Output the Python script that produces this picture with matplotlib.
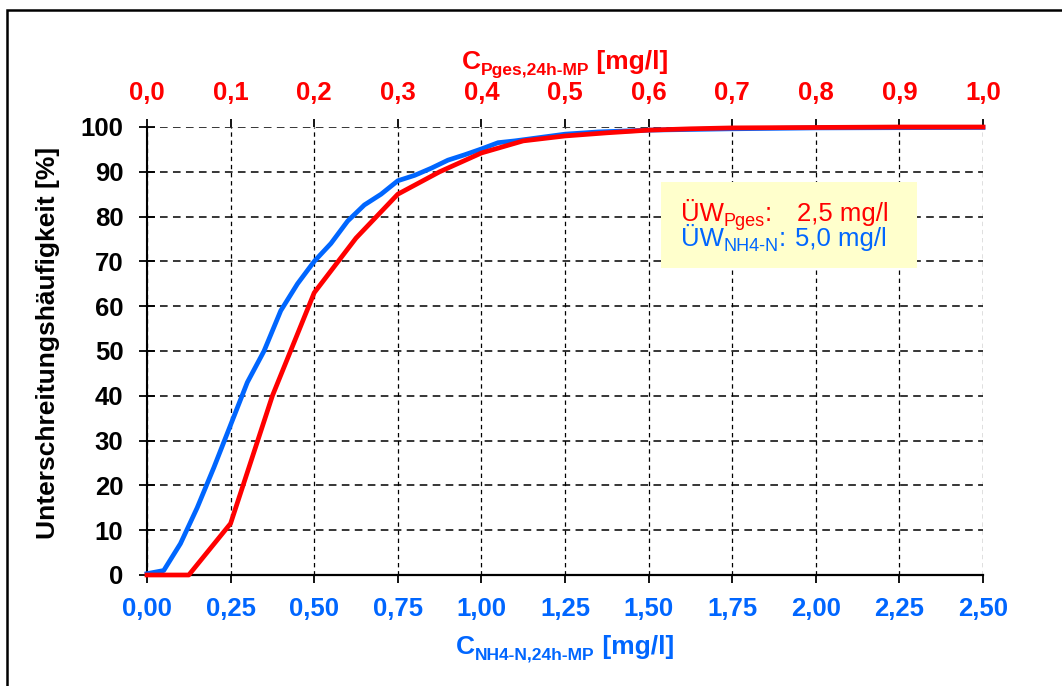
import matplotlib
matplotlib.use('Agg')
import matplotlib.pyplot as plt
from matplotlib.ticker import FuncFormatter, MultipleLocator
from matplotlib.patches import Rectangle

plt.rcParams['font.family'] = ['Liberation Sans', 'DejaVu Sans']

# NH4-N (bottom axis, mg/l) vs. Unterschreitungshaeufigkeit [%]
nh4_x = [0, 0.05, 0.1, 0.15, 0.2, 0.25, 0.3, 0.35, 0.4, 0.45, 0.5, 0.55, 0.6, 0.65,
         0.7, 0.75, 0.8, 0.85, 0.9, 0.95, 1.0, 1.05, 1.1, 1.25, 1.35, 1.5, 1.75, 2.0, 2.5]
nh4_y = [0.3, 1, 7, 15, 24, 33.5, 43, 50, 59, 65, 70, 74, 79, 82.6,
         85, 88, 89.2, 90.8, 92.6, 93.8, 95.1, 96.5, 96.9, 98.4, 98.9, 99.3, 99.6, 99.8, 99.9]

# Pges (top axis, mg/l)
p_x = [0, 0.05, 0.1, 0.15, 0.2, 0.25, 0.3, 0.35, 0.4, 0.45, 0.5, 0.55, 0.6, 0.65,
       0.7, 0.8, 0.9, 1.0]
p_y = [0, 0, 11.5, 40, 63, 75.2, 85, 90, 94.2, 96.9, 98, 98.7, 99.3, 99.6,
       99.8, 99.9, 100, 100]

RED = '#ff0000'
BLUE = '#0066ff'
W, H = 1062, 686


def px(x, y):
    return x / W, 1 - y / H


fig = plt.figure(figsize=(W / 100, H / 100), dpi=100)
ax = fig.add_axes([147 / W, 1 - 575 / H, (983 - 147) / W, (575 - 127) / H])
ax2 = ax.twiny()
ax.set_zorder(1)
ax2.set_zorder(2)
ax2.patch.set_visible(False)

ax.plot(nh4_x, nh4_y, color=BLUE, lw=3.4, clip_on=False, zorder=3)
ax2.plot(p_x, p_y, color=RED, lw=3.4, clip_on=False, zorder=3)

ax.set_xlim(0, 2.5)
ax.set_ylim(0, 100)
ax2.set_xlim(0, 1.0)

ax.xaxis.set_major_locator(MultipleLocator(0.25))
ax.yaxis.set_major_locator(MultipleLocator(10))
ax2.xaxis.set_major_locator(MultipleLocator(0.1))
ax.xaxis.set_major_formatter(FuncFormatter(lambda v, p: f'{v:.2f}'.replace('.', ',')))
ax2.xaxis.set_major_formatter(FuncFormatter(lambda v, p: f'{v:.1f}'.replace('.', ',')))
ax.yaxis.set_major_formatter(FuncFormatter(lambda v, p: f'{v:.0f}'))

ax.yaxis.grid(True, color='black', lw=1.1, linestyle=(0, (5, 3.5)))
ax.xaxis.grid(True, color='black', lw=0.9, linestyle=(0, (3.5, 3)))
ax.set_axisbelow(True)

for s in ['top', 'right']:
    ax.spines[s].set_visible(False)
for s in ax2.spines.values():
    s.set_visible(False)
ax.spines['left'].set_linewidth(1.5)
ax.spines['bottom'].set_linewidth(1.6)

ax.tick_params(axis='x', direction='out', length=6, width=1.3, pad=10,
               labelsize=18.5, labelcolor=BLUE)
ax.tick_params(axis='y', direction='inout', length=12, width=1.3, pad=11,
               labelsize=18.5, labelcolor='black')
ax2.tick_params(axis='x', direction='out', length=6, width=1.3, pad=10,
                labelsize=18.5, labelcolor=RED)
for lab in ax.get_xticklabels() + ax.get_yticklabels() + ax2.get_xticklabels():
    lab.set_fontweight('bold')

fig.text(*px(48, 343), 'Unterschreitungshäufigkeit [%]', rotation=90,
         ha='center', va='center', fontsize=19, fontweight='bold')

renderer = fig.canvas.get_renderer()


def composite(x, y, parts, color, weight, center=True):
    # parts: (text, fontsize, baseline shift in px)
    texts = []
    for s, size, dy in parts:
        t = fig.text(0, 0, s, fontsize=size, color=color, fontweight=weight,
                     ha='left', va='baseline', zorder=6)
        texts.append((t, dy))
    widths = [t.get_window_extent(renderer).width for t, _ in texts]
    x0 = x - sum(widths) / 2 if center else x
    for (t, dy), w in zip(texts, widths):
        t.set_position(px(x0, y + dy))
        x0 += w
    return x0


composite(565, 69, [('C', 19, 0), ('Pges,24h-MP', 12.5, 6), (' [mg/l]', 19, 0)], RED, 'bold')
composite(565, 654, [('C', 19, 0), ('NH4-N,24h-MP', 12.5, 6), (' [mg/l]', 19, 0)], BLUE, 'bold')

# annotation box
fig.patches.append(Rectangle(px(661, 268), (917 - 661) / W, (268 - 182) / H,
                             transform=fig.transFigure, facecolor='#ffffcc',
                             edgecolor='none', zorder=5))
composite(681, 221, [('ÜW', 18.5, 0), ('Pges', 13, 5), (':', 18.5, 0)], RED, 'normal', center=False)
fig.text(*px(797, 221), '2,5 mg/l', fontsize=18.5, color=RED, va='baseline', zorder=6)
composite(681, 246, [('ÜW', 18.5, 0), ('NH4-N', 13, 5), (':', 18.5, 0)], BLUE, 'normal', center=False)
fig.text(*px(795, 246), '5,0 mg/l', fontsize=18.5, color=BLUE, va='baseline', zorder=6)

# outer frame
fig.patches.append(Rectangle(px(7, 720), 1.2, (720 - 10) / H, transform=fig.transFigure,
                             fill=False, edgecolor='black', lw=1.8, clip_on=False))

fig.savefig('out.png', dpi=100)
